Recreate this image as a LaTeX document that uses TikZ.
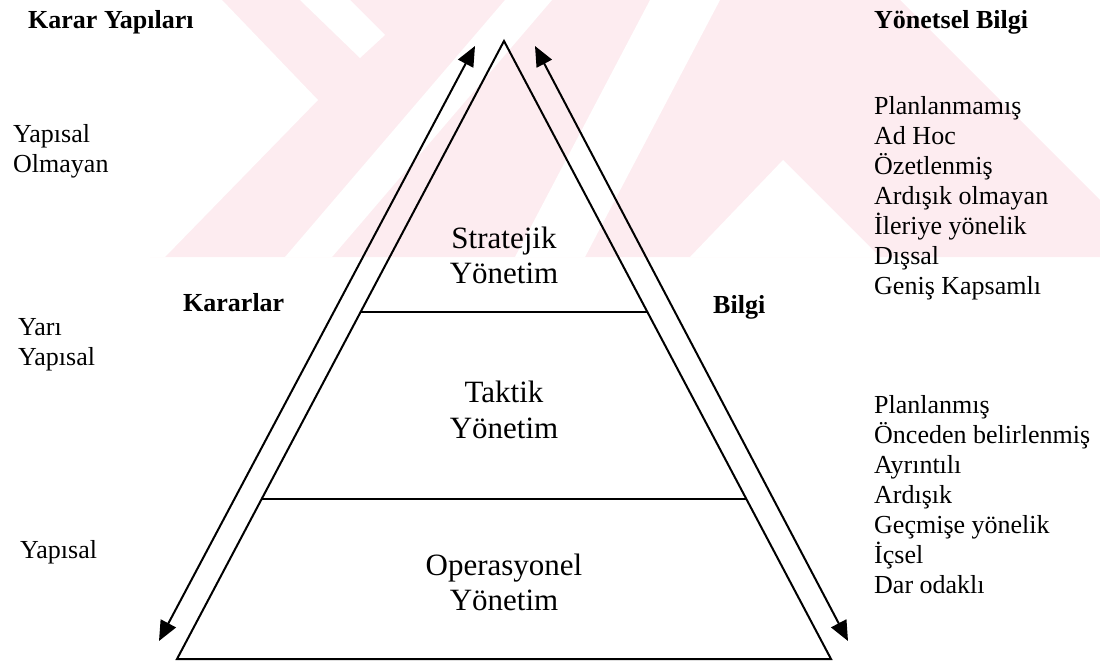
\documentclass[tikz,border=0pt]{standalone}
\usepackage{fontspec}
\setmainfont{Liberation Serif}
\usetikzlibrary{arrows.meta,calc}
\definecolor{wmpink}{RGB}{253,236,240}
\begin{document}
\begin{tikzpicture}[x=1pt,y=-1pt,
  txt/.style={inner sep=0pt, anchor=west, text height=19pt, text depth=6pt,
    font=\fontsize{26}{30}\selectfont},
  head/.style={txt, font=\fontsize{26}{30}\selectfont\bfseries},
  lvl/.style={inner sep=0pt, align=center, font=\fontsize{31}{35.5}\selectfont},
  side/.style={line width=2pt, line join=miter},
  divider/.style={line width=1.3pt},
  flow/.style={line width=2pt,
    {Triangle[length=20pt,width=17pt]}-{Triangle[length=20pt,width=17pt]}}
]
\useasboundingbox (0,0) rectangle (1100,665);

% faint background emblem
\begin{scope}
  \clip (0,0) rectangle (1100,257);
  \fill[wmpink] (150,0) -- (900,0) -- (1100,200) -- (1100,257) -- (150,257) -- cycle;
  \fill[white] (150,0) -- (222,0) -- (318,100) -- (165,257) -- (150,257) -- cycle;
  \fill[white] (300,0) -- (350,0) -- (385,35) -- (360,58) -- cycle;
  \fill[white] (505,0) -- (552,0) -- (332,257) -- (285,257) -- cycle;
  \fill[white] (650,0) -- (720,0) -- (585,257) -- (515,257) -- cycle;
  \fill[white] (783,160) -- (880,257) -- (690,257) -- cycle;
\end{scope}

% pyramid
\coordinate (apex) at (504,41);
\coordinate (bl) at (177,659);
\coordinate (br) at (831,659);
\draw[side] (apex) -- (br) -- (bl) -- cycle;
\coordinate (d1l) at ($(apex)!0.4385!(bl)$);
\coordinate (d1r) at ($(apex)!0.4385!(br)$);
\coordinate (d2l) at ($(apex)!0.7411!(bl)$);
\coordinate (d2r) at ($(apex)!0.7411!(br)$);
\draw[divider] (d1l) -- (d1r);
\draw[divider] (d2l) -- (d2r);

\node[lvl] (strat) at (504,255.5) {Stratejik\\Yönetim};
\node[lvl] (takt) at (504,410) {Taktik\\Yönetim};
\node[lvl] (oper) at (504,582.5) {Operasyonel\\Yönetim};

% two-way arrows along the sides
\coordinate (lt) at (475,46);
\coordinate (lb) at (159,641);
\coordinate (rt) at (535,46);
\coordinate (rb) at (848,641);
\draw[flow] (lt) -- (lb);
\draw[flow] (rt) -- (rb);

\node[head] (kararlar) at (183,305) {Kararlar};
\node[head] (bilgi) at (713,307) {Bilgi};

% left column
\node[head] (kyap) at (28,22) {Karar Yapıları};
\node[txt] (ys1) at (13,136) {Yapısal};
\node[txt] (ys2) at (13,166) {Olmayan};
\node[txt] (yy1) at (18,329) {Yarı};
\node[txt] (yy2) at (18,359) {Yapısal};
\node[txt] (yp) at (20,552) {Yapısal};

% right column
\node[head] (ybil) at (874,22) {Yönetsel Bilgi};
\foreach \t [count=\i] in {Planlanmamış, Ad Hoc, Özetlenmiş, Ardışık olmayan,
    İleriye yönelik, Dışsal, Geniş Kapsamlı}
  \node[txt] (top\i) at (874,{108+30*(\i-1)}) {\t};
\foreach \t [count=\i] in {Planlanmış, Önceden belirlenmiş, Ayrıntılı, Ardışık,
    Geçmişe yönelik, İçsel, Dar odaklı}
  \node[txt] (bot\i) at (874,{407+30*(\i-1)}) {\t};
\end{tikzpicture}
\end{document}
